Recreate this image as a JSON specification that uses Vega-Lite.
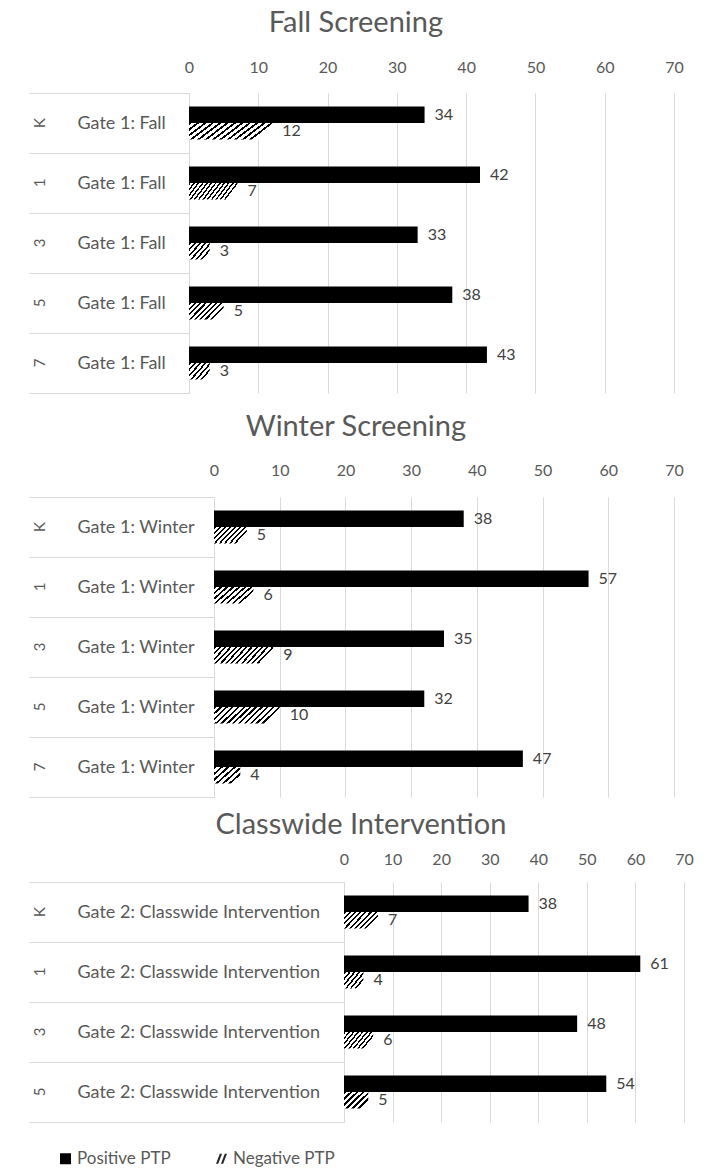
{
  "$schema": "https://vega.github.io/schema/vega-lite/v6.json",
  "background": "white",
  "padding": {"left": 28, "top": 9, "right": 5, "bottom": 0},
  "config": {
    "font": "Lato",
    "view": {"stroke": null},
    "axis": {"labelFont": "Lato", "labelColor": "#595959", "gridColor": "#d9d9d9", "domainColor": "#d9d9d9", "tickColor": "#d9d9d9"},
    "title": {"font": "Lato", "fontSize": 29, "fontWeight": "normal", "color": "#595959", "anchor": "middle", "frame": "bounds", "baseline": "bottom"},
    "legend": {"labelFont": "Lato"}
  },
  "data": {"values": [
    {"panel": "Fall", "gate": "Gate 1: Fall", "grade": "K", "measure": "Positive PTP", "value": 34},
    {"panel": "Fall", "gate": "Gate 1: Fall", "grade": "K", "measure": "Negative PTP", "value": 12},
    {"panel": "Fall", "gate": "Gate 1: Fall", "grade": "1", "measure": "Positive PTP", "value": 42},
    {"panel": "Fall", "gate": "Gate 1: Fall", "grade": "1", "measure": "Negative PTP", "value": 7},
    {"panel": "Fall", "gate": "Gate 1: Fall", "grade": "3", "measure": "Positive PTP", "value": 33},
    {"panel": "Fall", "gate": "Gate 1: Fall", "grade": "3", "measure": "Negative PTP", "value": 3},
    {"panel": "Fall", "gate": "Gate 1: Fall", "grade": "5", "measure": "Positive PTP", "value": 38},
    {"panel": "Fall", "gate": "Gate 1: Fall", "grade": "5", "measure": "Negative PTP", "value": 5},
    {"panel": "Fall", "gate": "Gate 1: Fall", "grade": "7", "measure": "Positive PTP", "value": 43},
    {"panel": "Fall", "gate": "Gate 1: Fall", "grade": "7", "measure": "Negative PTP", "value": 3},
    {"panel": "Winter", "gate": "Gate 1: Winter", "grade": "K", "measure": "Positive PTP", "value": 38},
    {"panel": "Winter", "gate": "Gate 1: Winter", "grade": "K", "measure": "Negative PTP", "value": 5},
    {"panel": "Winter", "gate": "Gate 1: Winter", "grade": "1", "measure": "Positive PTP", "value": 57},
    {"panel": "Winter", "gate": "Gate 1: Winter", "grade": "1", "measure": "Negative PTP", "value": 6},
    {"panel": "Winter", "gate": "Gate 1: Winter", "grade": "3", "measure": "Positive PTP", "value": 35},
    {"panel": "Winter", "gate": "Gate 1: Winter", "grade": "3", "measure": "Negative PTP", "value": 9},
    {"panel": "Winter", "gate": "Gate 1: Winter", "grade": "5", "measure": "Positive PTP", "value": 32},
    {"panel": "Winter", "gate": "Gate 1: Winter", "grade": "5", "measure": "Negative PTP", "value": 10},
    {"panel": "Winter", "gate": "Gate 1: Winter", "grade": "7", "measure": "Positive PTP", "value": 47},
    {"panel": "Winter", "gate": "Gate 1: Winter", "grade": "7", "measure": "Negative PTP", "value": 4},
    {"panel": "Classwide", "gate": "Gate 2: Classwide Intervention", "grade": "K", "measure": "Positive PTP", "value": 38},
    {"panel": "Classwide", "gate": "Gate 2: Classwide Intervention", "grade": "K", "measure": "Negative PTP", "value": 7},
    {"panel": "Classwide", "gate": "Gate 2: Classwide Intervention", "grade": "1", "measure": "Positive PTP", "value": 61},
    {"panel": "Classwide", "gate": "Gate 2: Classwide Intervention", "grade": "1", "measure": "Negative PTP", "value": 4},
    {"panel": "Classwide", "gate": "Gate 2: Classwide Intervention", "grade": "3", "measure": "Positive PTP", "value": 48},
    {"panel": "Classwide", "gate": "Gate 2: Classwide Intervention", "grade": "3", "measure": "Negative PTP", "value": 6},
    {"panel": "Classwide", "gate": "Gate 2: Classwide Intervention", "grade": "5", "measure": "Positive PTP", "value": 54},
    {"panel": "Classwide", "gate": "Gate 2: Classwide Intervention", "grade": "5", "measure": "Negative PTP", "value": 5}
  ]},
  "columns": 1,
  "align": "none",
  "spacing": 13,
  "resolve": {"scale": {"color": "independent", "shape": "independent"}, "legend": {"color": "independent", "shape": "independent"}},
  "concat": [
    {
      "columns": 1,
      "align": "none",
      "spacing": 19,
      "concat": [
        {
          "title": {"text": "Fall Screening", "offset": 21},
          "width": 645,
          "height": 300,
          "transform": [{"filter": "datum.panel === 'Fall'"}],
          "resolve": {"axis": {"y": "independent"}},
          "layer": [
            {
              "transform": [{"filter": "datum.measure === 'Positive PTP'"}],
              "mark": {"type": "bar", "color": "#000000"},
              "encoding": {
                "x": {"field": "value", "type": "quantitative", "scale": {"domain": [0, 70], "nice": false, "range": [160, 645]}, "axis": {"orient": "top", "values": [0, 10, 20, 30, 40, 50, 60, 70], "grid": true, "ticks": false, "tickSize": 0, "domain": false, "labelPadding": 26, "labelBaseline": "middle", "labelFontSize": 16, "labelFlush": false, "labelOverlap": false, "title": null}},
                "y": {"field": "grade", "type": "nominal", "sort": ["K", "1", "3", "5", "7"], "scale": {"paddingInner": 0, "paddingOuter": 0}, "axis": {"orient": "left", "offset": -160, "tickBand": "extent", "ticks": true, "tickSize": 160, "tickWidth": 1, "domain": true, "grid": false, "labelAlign": "left", "labelBaseline": "middle", "labelPadding": -48, "labelFontSize": 18, "labelLimit": 400, "labelExpr": "datum.value != null ? 'Gate 1: Fall' : ''", "title": null}},
                "yOffset": {"field": "measure", "type": "nominal", "scale": {"domain": ["Positive PTP", "Negative PTP"], "paddingInner": 0, "paddingOuter": 0.82}}
              }
            },
            {
              "transform": [{"filter": "datum.measure === 'Negative PTP' && datum.value <= 3"}],
              "mark": {"type": "bar", "fill": {"gradient": "linear", "x1": 0, "y1": 0, "x2": 1, "y2": 0.7, "stops": [
                {"offset": 0, "color": "#000"}, {"offset": 0.067, "color": "#000"}, {"offset": 0.067, "color": "#fff"}, {"offset": 0.167, "color": "#fff"},
                {"offset": 0.167, "color": "#000"}, {"offset": 0.233, "color": "#000"}, {"offset": 0.233, "color": "#fff"}, {"offset": 0.333, "color": "#fff"},
                {"offset": 0.333, "color": "#000"}, {"offset": 0.4, "color": "#000"}, {"offset": 0.4, "color": "#fff"}, {"offset": 0.5, "color": "#fff"},
                {"offset": 0.5, "color": "#000"}, {"offset": 0.567, "color": "#000"}, {"offset": 0.567, "color": "#fff"}, {"offset": 0.667, "color": "#fff"},
                {"offset": 0.667, "color": "#000"}, {"offset": 0.733, "color": "#000"}, {"offset": 0.733, "color": "#fff"}, {"offset": 0.833, "color": "#fff"},
                {"offset": 0.833, "color": "#000"}, {"offset": 0.9, "color": "#000"}, {"offset": 0.9, "color": "#fff"}, {"offset": 1, "color": "#fff"}]}},
              "encoding": {
                "x": {"field": "value", "type": "quantitative", "scale": {"domain": [0, 70], "nice": false, "range": [160, 645]}},
                "y": {"field": "grade", "type": "nominal", "sort": ["K", "1", "3", "5", "7"], "axis": null},
                "yOffset": {"field": "measure", "type": "nominal", "scale": {"domain": ["Positive PTP", "Negative PTP"], "paddingInner": 0, "paddingOuter": 0.82}}
              }
            },
            {
              "transform": [{"filter": "datum.measure === 'Negative PTP' && datum.value > 3 && datum.value <= 5"}],
              "mark": {"type": "bar", "fill": {"gradient": "linear", "x1": 0, "y1": 0, "x2": 1, "y2": 0.47, "stops": [
                {"offset": 0, "color": "#000"}, {"offset": 0.05, "color": "#000"}, {"offset": 0.05, "color": "#fff"}, {"offset": 0.125, "color": "#fff"},
                {"offset": 0.125, "color": "#000"}, {"offset": 0.175, "color": "#000"}, {"offset": 0.175, "color": "#fff"}, {"offset": 0.25, "color": "#fff"},
                {"offset": 0.25, "color": "#000"}, {"offset": 0.3, "color": "#000"}, {"offset": 0.3, "color": "#fff"}, {"offset": 0.375, "color": "#fff"},
                {"offset": 0.375, "color": "#000"}, {"offset": 0.425, "color": "#000"}, {"offset": 0.425, "color": "#fff"}, {"offset": 0.5, "color": "#fff"},
                {"offset": 0.5, "color": "#000"}, {"offset": 0.55, "color": "#000"}, {"offset": 0.55, "color": "#fff"}, {"offset": 0.625, "color": "#fff"},
                {"offset": 0.625, "color": "#000"}, {"offset": 0.675, "color": "#000"}, {"offset": 0.675, "color": "#fff"}, {"offset": 0.75, "color": "#fff"},
                {"offset": 0.75, "color": "#000"}, {"offset": 0.8, "color": "#000"}, {"offset": 0.8, "color": "#fff"}, {"offset": 0.875, "color": "#fff"},
                {"offset": 0.875, "color": "#000"}, {"offset": 0.925, "color": "#000"}, {"offset": 0.925, "color": "#fff"}, {"offset": 1, "color": "#fff"}]}},
              "encoding": {
                "x": {"field": "value", "type": "quantitative", "scale": {"domain": [0, 70], "nice": false, "range": [160, 645]}},
                "y": {"field": "grade", "type": "nominal", "sort": ["K", "1", "3", "5", "7"], "axis": null},
                "yOffset": {"field": "measure", "type": "nominal", "scale": {"domain": ["Positive PTP", "Negative PTP"], "paddingInner": 0, "paddingOuter": 0.82}}
              }
            },
            {
              "transform": [{"filter": "datum.measure === 'Negative PTP' && datum.value > 5"}],
              "mark": {"type": "bar", "fill": {"gradient": "linear", "x1": 0, "y1": 0, "x2": 1, "y2": 0.26, "stops": [
                {"offset": 0, "color": "#000"}, {"offset": 0.033, "color": "#000"}, {"offset": 0.033, "color": "#fff"}, {"offset": 0.083, "color": "#fff"},
                {"offset": 0.083, "color": "#000"}, {"offset": 0.117, "color": "#000"}, {"offset": 0.117, "color": "#fff"}, {"offset": 0.167, "color": "#fff"},
                {"offset": 0.167, "color": "#000"}, {"offset": 0.2, "color": "#000"}, {"offset": 0.2, "color": "#fff"}, {"offset": 0.25, "color": "#fff"},
                {"offset": 0.25, "color": "#000"}, {"offset": 0.283, "color": "#000"}, {"offset": 0.283, "color": "#fff"}, {"offset": 0.333, "color": "#fff"},
                {"offset": 0.333, "color": "#000"}, {"offset": 0.367, "color": "#000"}, {"offset": 0.367, "color": "#fff"}, {"offset": 0.417, "color": "#fff"},
                {"offset": 0.417, "color": "#000"}, {"offset": 0.45, "color": "#000"}, {"offset": 0.45, "color": "#fff"}, {"offset": 0.5, "color": "#fff"},
                {"offset": 0.5, "color": "#000"}, {"offset": 0.533, "color": "#000"}, {"offset": 0.533, "color": "#fff"}, {"offset": 0.583, "color": "#fff"},
                {"offset": 0.583, "color": "#000"}, {"offset": 0.617, "color": "#000"}, {"offset": 0.617, "color": "#fff"}, {"offset": 0.667, "color": "#fff"},
                {"offset": 0.667, "color": "#000"}, {"offset": 0.7, "color": "#000"}, {"offset": 0.7, "color": "#fff"}, {"offset": 0.75, "color": "#fff"},
                {"offset": 0.75, "color": "#000"}, {"offset": 0.783, "color": "#000"}, {"offset": 0.783, "color": "#fff"}, {"offset": 0.833, "color": "#fff"},
                {"offset": 0.833, "color": "#000"}, {"offset": 0.867, "color": "#000"}, {"offset": 0.867, "color": "#fff"}, {"offset": 0.917, "color": "#fff"},
                {"offset": 0.917, "color": "#000"}, {"offset": 0.95, "color": "#000"}, {"offset": 0.95, "color": "#fff"}, {"offset": 1, "color": "#fff"}]}},
              "encoding": {
                "x": {"field": "value", "type": "quantitative", "scale": {"domain": [0, 70], "nice": false, "range": [160, 645]}},
                "y": {"field": "grade", "type": "nominal", "sort": ["K", "1", "3", "5", "7"], "axis": null},
                "yOffset": {"field": "measure", "type": "nominal", "scale": {"domain": ["Positive PTP", "Negative PTP"], "paddingInner": 0, "paddingOuter": 0.82}}
              }
            },
            {
              "mark": {"type": "text", "align": "left", "baseline": "middle", "dx": 10, "fontSize": 16, "color": "#404040"},
              "encoding": {
                "x": {"field": "value", "type": "quantitative", "scale": {"domain": [0, 70], "nice": false, "range": [160, 645]}},
                "y": {"field": "grade", "type": "nominal", "sort": ["K", "1", "3", "5", "7"], "axis": {"orient": "left", "offset": -160, "ticks": false, "tickSize": 0, "domain": false, "grid": false, "labelAngle": 270, "labelAlign": "center", "labelBaseline": "middle", "labelPadding": 150, "labelFontSize": 15, "title": null}},
                "yOffset": {"field": "measure", "type": "nominal", "scale": {"domain": ["Positive PTP", "Negative PTP"], "paddingInner": 0, "paddingOuter": 0.82}},
                "text": {"field": "value", "type": "quantitative"}
              }
            }
          ]
        },
        {
          "title": {"text": "Winter Screening", "offset": 20},
          "width": 645,
          "height": 300,
          "transform": [{"filter": "datum.panel === 'Winter'"}],
          "resolve": {"axis": {"y": "independent"}},
          "layer": [
            {
              "transform": [{"filter": "datum.measure === 'Positive PTP'"}],
              "mark": {"type": "bar", "color": "#000000"},
              "encoding": {
                "x": {"field": "value", "type": "quantitative", "scale": {"domain": [0, 70], "nice": false, "range": [185, 645]}, "axis": {"orient": "top", "values": [0, 10, 20, 30, 40, 50, 60, 70], "grid": true, "ticks": false, "tickSize": 0, "domain": false, "labelPadding": 27, "labelBaseline": "middle", "labelFontSize": 16, "labelFlush": false, "labelOverlap": false, "title": null}},
                "y": {"field": "grade", "type": "nominal", "sort": ["K", "1", "3", "5", "7"], "scale": {"paddingInner": 0, "paddingOuter": 0}, "axis": {"orient": "left", "offset": -185, "tickBand": "extent", "ticks": true, "tickSize": 185, "tickWidth": 1, "domain": true, "grid": false, "labelAlign": "left", "labelBaseline": "middle", "labelPadding": -48, "labelFontSize": 18, "labelLimit": 400, "labelExpr": "datum.value != null ? 'Gate 1: Winter' : ''", "title": null}},
                "yOffset": {"field": "measure", "type": "nominal", "scale": {"domain": ["Positive PTP", "Negative PTP"], "paddingInner": 0, "paddingOuter": 0.82}}
              }
            },
            {
              "transform": [{"filter": "datum.measure === 'Negative PTP' && datum.value <= 4"}],
              "mark": {"type": "bar", "fill": {"gradient": "linear", "x1": 0, "y1": 0, "x2": 1, "y2": 0.7, "stops": [
                {"offset": 0, "color": "#000"}, {"offset": 0.067, "color": "#000"}, {"offset": 0.067, "color": "#fff"}, {"offset": 0.167, "color": "#fff"},
                {"offset": 0.167, "color": "#000"}, {"offset": 0.233, "color": "#000"}, {"offset": 0.233, "color": "#fff"}, {"offset": 0.333, "color": "#fff"},
                {"offset": 0.333, "color": "#000"}, {"offset": 0.4, "color": "#000"}, {"offset": 0.4, "color": "#fff"}, {"offset": 0.5, "color": "#fff"},
                {"offset": 0.5, "color": "#000"}, {"offset": 0.567, "color": "#000"}, {"offset": 0.567, "color": "#fff"}, {"offset": 0.667, "color": "#fff"},
                {"offset": 0.667, "color": "#000"}, {"offset": 0.733, "color": "#000"}, {"offset": 0.733, "color": "#fff"}, {"offset": 0.833, "color": "#fff"},
                {"offset": 0.833, "color": "#000"}, {"offset": 0.9, "color": "#000"}, {"offset": 0.9, "color": "#fff"}, {"offset": 1, "color": "#fff"}]}},
              "encoding": {
                "x": {"field": "value", "type": "quantitative", "scale": {"domain": [0, 70], "nice": false, "range": [185, 645]}},
                "y": {"field": "grade", "type": "nominal", "sort": ["K", "1", "3", "5", "7"], "axis": null},
                "yOffset": {"field": "measure", "type": "nominal", "scale": {"domain": ["Positive PTP", "Negative PTP"], "paddingInner": 0, "paddingOuter": 0.82}}
              }
            },
            {
              "transform": [{"filter": "datum.measure === 'Negative PTP' && datum.value > 4 && datum.value <= 6"}],
              "mark": {"type": "bar", "fill": {"gradient": "linear", "x1": 0, "y1": 0, "x2": 1, "y2": 0.47, "stops": [
                {"offset": 0, "color": "#000"}, {"offset": 0.05, "color": "#000"}, {"offset": 0.05, "color": "#fff"}, {"offset": 0.125, "color": "#fff"},
                {"offset": 0.125, "color": "#000"}, {"offset": 0.175, "color": "#000"}, {"offset": 0.175, "color": "#fff"}, {"offset": 0.25, "color": "#fff"},
                {"offset": 0.25, "color": "#000"}, {"offset": 0.3, "color": "#000"}, {"offset": 0.3, "color": "#fff"}, {"offset": 0.375, "color": "#fff"},
                {"offset": 0.375, "color": "#000"}, {"offset": 0.425, "color": "#000"}, {"offset": 0.425, "color": "#fff"}, {"offset": 0.5, "color": "#fff"},
                {"offset": 0.5, "color": "#000"}, {"offset": 0.55, "color": "#000"}, {"offset": 0.55, "color": "#fff"}, {"offset": 0.625, "color": "#fff"},
                {"offset": 0.625, "color": "#000"}, {"offset": 0.675, "color": "#000"}, {"offset": 0.675, "color": "#fff"}, {"offset": 0.75, "color": "#fff"},
                {"offset": 0.75, "color": "#000"}, {"offset": 0.8, "color": "#000"}, {"offset": 0.8, "color": "#fff"}, {"offset": 0.875, "color": "#fff"},
                {"offset": 0.875, "color": "#000"}, {"offset": 0.925, "color": "#000"}, {"offset": 0.925, "color": "#fff"}, {"offset": 1, "color": "#fff"}]}},
              "encoding": {
                "x": {"field": "value", "type": "quantitative", "scale": {"domain": [0, 70], "nice": false, "range": [185, 645]}},
                "y": {"field": "grade", "type": "nominal", "sort": ["K", "1", "3", "5", "7"], "axis": null},
                "yOffset": {"field": "measure", "type": "nominal", "scale": {"domain": ["Positive PTP", "Negative PTP"], "paddingInner": 0, "paddingOuter": 0.82}}
              }
            },
            {
              "transform": [{"filter": "datum.measure === 'Negative PTP' && datum.value > 6"}],
              "mark": {"type": "bar", "fill": {"gradient": "linear", "x1": 0, "y1": 0, "x2": 1, "y2": 0.26, "stops": [
                {"offset": 0, "color": "#000"}, {"offset": 0.033, "color": "#000"}, {"offset": 0.033, "color": "#fff"}, {"offset": 0.083, "color": "#fff"},
                {"offset": 0.083, "color": "#000"}, {"offset": 0.117, "color": "#000"}, {"offset": 0.117, "color": "#fff"}, {"offset": 0.167, "color": "#fff"},
                {"offset": 0.167, "color": "#000"}, {"offset": 0.2, "color": "#000"}, {"offset": 0.2, "color": "#fff"}, {"offset": 0.25, "color": "#fff"},
                {"offset": 0.25, "color": "#000"}, {"offset": 0.283, "color": "#000"}, {"offset": 0.283, "color": "#fff"}, {"offset": 0.333, "color": "#fff"},
                {"offset": 0.333, "color": "#000"}, {"offset": 0.367, "color": "#000"}, {"offset": 0.367, "color": "#fff"}, {"offset": 0.417, "color": "#fff"},
                {"offset": 0.417, "color": "#000"}, {"offset": 0.45, "color": "#000"}, {"offset": 0.45, "color": "#fff"}, {"offset": 0.5, "color": "#fff"},
                {"offset": 0.5, "color": "#000"}, {"offset": 0.533, "color": "#000"}, {"offset": 0.533, "color": "#fff"}, {"offset": 0.583, "color": "#fff"},
                {"offset": 0.583, "color": "#000"}, {"offset": 0.617, "color": "#000"}, {"offset": 0.617, "color": "#fff"}, {"offset": 0.667, "color": "#fff"},
                {"offset": 0.667, "color": "#000"}, {"offset": 0.7, "color": "#000"}, {"offset": 0.7, "color": "#fff"}, {"offset": 0.75, "color": "#fff"},
                {"offset": 0.75, "color": "#000"}, {"offset": 0.783, "color": "#000"}, {"offset": 0.783, "color": "#fff"}, {"offset": 0.833, "color": "#fff"},
                {"offset": 0.833, "color": "#000"}, {"offset": 0.867, "color": "#000"}, {"offset": 0.867, "color": "#fff"}, {"offset": 0.917, "color": "#fff"},
                {"offset": 0.917, "color": "#000"}, {"offset": 0.95, "color": "#000"}, {"offset": 0.95, "color": "#fff"}, {"offset": 1, "color": "#fff"}]}},
              "encoding": {
                "x": {"field": "value", "type": "quantitative", "scale": {"domain": [0, 70], "nice": false, "range": [185, 645]}},
                "y": {"field": "grade", "type": "nominal", "sort": ["K", "1", "3", "5", "7"], "axis": null},
                "yOffset": {"field": "measure", "type": "nominal", "scale": {"domain": ["Positive PTP", "Negative PTP"], "paddingInner": 0, "paddingOuter": 0.82}}
              }
            },
            {
              "mark": {"type": "text", "align": "left", "baseline": "middle", "dx": 10, "fontSize": 16, "color": "#404040"},
              "encoding": {
                "x": {"field": "value", "type": "quantitative", "scale": {"domain": [0, 70], "nice": false, "range": [185, 645]}},
                "y": {"field": "grade", "type": "nominal", "sort": ["K", "1", "3", "5", "7"], "axis": {"orient": "left", "offset": -185, "ticks": false, "tickSize": 0, "domain": false, "grid": false, "labelAngle": 270, "labelAlign": "center", "labelBaseline": "middle", "labelPadding": 175, "labelFontSize": 15, "title": null}},
                "yOffset": {"field": "measure", "type": "nominal", "scale": {"domain": ["Positive PTP", "Negative PTP"], "paddingInner": 0, "paddingOuter": 0.82}},
                "text": {"field": "value", "type": "quantitative"}
              }
            }
          ]
        }
      ]
    },
    {
      "title": {"text": "Classwide Intervention", "offset": 11},
      "width": 655,
      "height": 240,
      "transform": [{"filter": "datum.panel === 'Classwide'"}],
      "resolve": {"axis": {"y": "independent"}},
      "layer": [
        {
          "transform": [{"filter": "datum.measure === 'Positive PTP'"}],
          "mark": {"type": "bar", "color": "#000000"},
          "encoding": {
            "x": {"field": "value", "type": "quantitative", "scale": {"domain": [0, 70], "nice": false, "range": [315, 655]}, "axis": {"orient": "top", "values": [0, 10, 20, 30, 40, 50, 60, 70], "grid": true, "ticks": false, "tickSize": 0, "domain": false, "labelPadding": 23, "labelBaseline": "middle", "labelFontSize": 16, "labelFlush": false, "labelOverlap": false, "title": null}},
            "y": {"field": "grade", "type": "nominal", "sort": ["K", "1", "3", "5"], "scale": {"paddingInner": 0, "paddingOuter": 0}, "axis": {"orient": "left", "offset": -315, "tickBand": "extent", "ticks": true, "tickSize": 315, "tickWidth": 1, "domain": true, "grid": false, "labelAlign": "left", "labelBaseline": "middle", "labelPadding": -48, "labelFontSize": 18, "labelLimit": 400, "labelExpr": "datum.value != null ? 'Gate 2: Classwide Intervention' : ''", "title": null}},
            "yOffset": {"field": "measure", "type": "nominal", "scale": {"domain": ["Positive PTP", "Negative PTP"], "paddingInner": 0, "paddingOuter": 0.82}}
          }
        },
        {
          "transform": [{"filter": "datum.measure === 'Negative PTP' && datum.value <= 5"}],
          "mark": {"type": "bar", "fill": {"gradient": "linear", "x1": 0, "y1": 0, "x2": 1, "y2": 0.7, "stops": [
            {"offset": 0, "color": "#000"}, {"offset": 0.067, "color": "#000"}, {"offset": 0.067, "color": "#fff"}, {"offset": 0.167, "color": "#fff"},
            {"offset": 0.167, "color": "#000"}, {"offset": 0.233, "color": "#000"}, {"offset": 0.233, "color": "#fff"}, {"offset": 0.333, "color": "#fff"},
            {"offset": 0.333, "color": "#000"}, {"offset": 0.4, "color": "#000"}, {"offset": 0.4, "color": "#fff"}, {"offset": 0.5, "color": "#fff"},
            {"offset": 0.5, "color": "#000"}, {"offset": 0.567, "color": "#000"}, {"offset": 0.567, "color": "#fff"}, {"offset": 0.667, "color": "#fff"},
            {"offset": 0.667, "color": "#000"}, {"offset": 0.733, "color": "#000"}, {"offset": 0.733, "color": "#fff"}, {"offset": 0.833, "color": "#fff"},
            {"offset": 0.833, "color": "#000"}, {"offset": 0.9, "color": "#000"}, {"offset": 0.9, "color": "#fff"}, {"offset": 1, "color": "#fff"}]}},
          "encoding": {
            "x": {"field": "value", "type": "quantitative", "scale": {"domain": [0, 70], "nice": false, "range": [315, 655]}},
            "y": {"field": "grade", "type": "nominal", "sort": ["K", "1", "3", "5"], "axis": null},
            "yOffset": {"field": "measure", "type": "nominal", "scale": {"domain": ["Positive PTP", "Negative PTP"], "paddingInner": 0, "paddingOuter": 0.82}}
          }
        },
        {
          "transform": [{"filter": "datum.measure === 'Negative PTP' && datum.value > 5"}],
          "mark": {"type": "bar", "fill": {"gradient": "linear", "x1": 0, "y1": 0, "x2": 1, "y2": 0.47, "stops": [
            {"offset": 0, "color": "#000"}, {"offset": 0.05, "color": "#000"}, {"offset": 0.05, "color": "#fff"}, {"offset": 0.125, "color": "#fff"},
            {"offset": 0.125, "color": "#000"}, {"offset": 0.175, "color": "#000"}, {"offset": 0.175, "color": "#fff"}, {"offset": 0.25, "color": "#fff"},
            {"offset": 0.25, "color": "#000"}, {"offset": 0.3, "color": "#000"}, {"offset": 0.3, "color": "#fff"}, {"offset": 0.375, "color": "#fff"},
            {"offset": 0.375, "color": "#000"}, {"offset": 0.425, "color": "#000"}, {"offset": 0.425, "color": "#fff"}, {"offset": 0.5, "color": "#fff"},
            {"offset": 0.5, "color": "#000"}, {"offset": 0.55, "color": "#000"}, {"offset": 0.55, "color": "#fff"}, {"offset": 0.625, "color": "#fff"},
            {"offset": 0.625, "color": "#000"}, {"offset": 0.675, "color": "#000"}, {"offset": 0.675, "color": "#fff"}, {"offset": 0.75, "color": "#fff"},
            {"offset": 0.75, "color": "#000"}, {"offset": 0.8, "color": "#000"}, {"offset": 0.8, "color": "#fff"}, {"offset": 0.875, "color": "#fff"},
            {"offset": 0.875, "color": "#000"}, {"offset": 0.925, "color": "#000"}, {"offset": 0.925, "color": "#fff"}, {"offset": 1, "color": "#fff"}]}},
          "encoding": {
            "x": {"field": "value", "type": "quantitative", "scale": {"domain": [0, 70], "nice": false, "range": [315, 655]}},
            "y": {"field": "grade", "type": "nominal", "sort": ["K", "1", "3", "5"], "axis": null},
            "yOffset": {"field": "measure", "type": "nominal", "scale": {"domain": ["Positive PTP", "Negative PTP"], "paddingInner": 0, "paddingOuter": 0.82}}
          }
        },
        {
          "transform": [{"filter": "datum.value < 0"}],
          "mark": {"type": "point", "filled": true, "opacity": 1},
          "encoding": {
            "x": {"field": "value", "type": "quantitative", "scale": {"domain": [0, 70], "nice": false, "range": [315, 655]}},
            "y": {"field": "grade", "type": "nominal", "sort": ["K", "1", "3", "5"], "axis": null},
            "color": {"field": "measure", "type": "nominal", "scale": {"domain": ["Positive PTP", "Negative PTP"], "range": ["#000000", "#262626"]}, "legend": {"orient": "none", "legendX": 28, "legendY": 268, "direction": "horizontal", "title": null, "symbolSize": 121, "symbolStrokeWidth": 0, "labelFontSize": 17, "labelColor": "#595959", "labelOffset": 3, "columnPadding": 42, "padding": 0}},
            "shape": {"field": "measure", "type": "nominal", "scale": {"domain": ["Positive PTP", "Negative PTP"], "range": ["square", "M-1,0.9L-0.6,0.9L0.1,-0.9L-0.3,-0.9Z M-0.1,0.9L0.3,0.9L1,-0.9L0.6,-0.9Z"]}, "legend": {"orient": "none", "legendX": 28, "legendY": 268, "direction": "horizontal", "title": null, "symbolSize": 121, "symbolStrokeWidth": 0, "labelFontSize": 17, "labelColor": "#595959", "labelOffset": 3, "columnPadding": 42, "padding": 0}}
          }
        },
        {
          "mark": {"type": "text", "align": "left", "baseline": "middle", "dx": 10, "fontSize": 16, "color": "#404040"},
          "encoding": {
            "x": {"field": "value", "type": "quantitative", "scale": {"domain": [0, 70], "nice": false, "range": [315, 655]}},
            "y": {"field": "grade", "type": "nominal", "sort": ["K", "1", "3", "5"], "axis": {"orient": "left", "offset": -315, "ticks": false, "tickSize": 0, "domain": false, "grid": false, "labelAngle": 270, "labelAlign": "center", "labelBaseline": "middle", "labelPadding": 305, "labelFontSize": 15, "title": null}},
            "yOffset": {"field": "measure", "type": "nominal", "scale": {"domain": ["Positive PTP", "Negative PTP"], "paddingInner": 0, "paddingOuter": 0.82}},
            "text": {"field": "value", "type": "quantitative"}
          }
        }
      ]
    }
  ]
}
